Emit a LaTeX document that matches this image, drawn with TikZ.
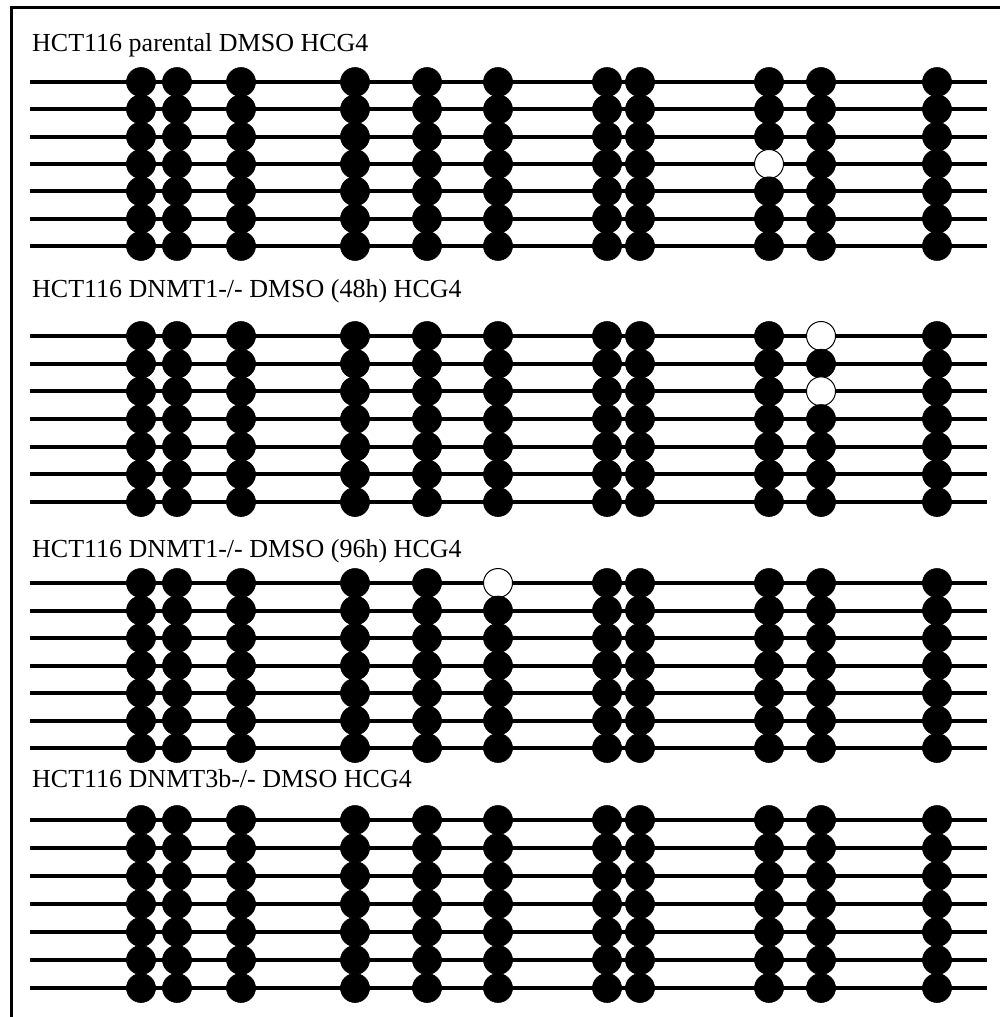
\documentclass[tikz,border=0pt]{standalone}
\usepackage{fontspec}
\setmainfont{Liberation Serif}
\begin{document}
\begin{tikzpicture}[x=1pt,y=-1pt,
  frame/.style={line width=3.3pt,line join=miter},
  strand/.style={line width=4pt},
  meth/.style={circle,fill=black,draw=black,line width=0.6pt,minimum size=29pt,inner sep=0pt},
  open 1-9-4/.style={fill=white,line width=1pt},
  open 2-10-1/.style={fill=white,line width=1pt},
  open 2-10-3/.style={fill=white,line width=1pt},
  open 3-6-1/.style={fill=white,line width=1pt},
  title/.style={anchor=base west,inner sep=0pt,font=\fontsize{26}{30}\selectfont}]
\useasboundingbox (0,0) rectangle (1000,1017);
\coordinate (fb) at (11.6,1017);
\coordinate (fc) at (11.6,7.6);
\coordinate (fr) at (1000,7.6);
\draw[frame] (fb) -- (fc) -- (fr);
\foreach \g/\t/\b/\ys/\d in {
  1/{HCT116 parental DMSO HCG4}/51/82/27.33,
  2/{HCT116 DNMT1-/- DMSO (48h) HCG4}/297/336/27.67,
  3/{HCT116 DNMT1-/- DMSO (96h) HCG4}/557/583/27.5,
  4/{HCT116 DNMT3b-/- DMSO HCG4}/787/820/28}{
  \node[title] (t\g) at (32,\b) {\t};
  \foreach \r in {1,...,7}{
    \pgfmathsetmacro\yy{\ys+\d*(\r-1)}
    \coordinate (l\g-\r) at (30,\yy);
    \coordinate (e\g-\r) at (987,\yy);
    \draw[strand] (l\g-\r) -- (e\g-\r);
  }
  \foreach \r in {1,...,7}{
    \pgfmathsetmacro\yy{\ys+\d*(\r-1)}
    \foreach \x [count=\k] in {141,177,241,355,427,498,607,640,769,821,937}{
      \node[meth,open \g-\k-\r/.try] (c\g-\k-\r) at (\x,\yy) {};
    }
  }
}
\end{tikzpicture}
\end{document}
